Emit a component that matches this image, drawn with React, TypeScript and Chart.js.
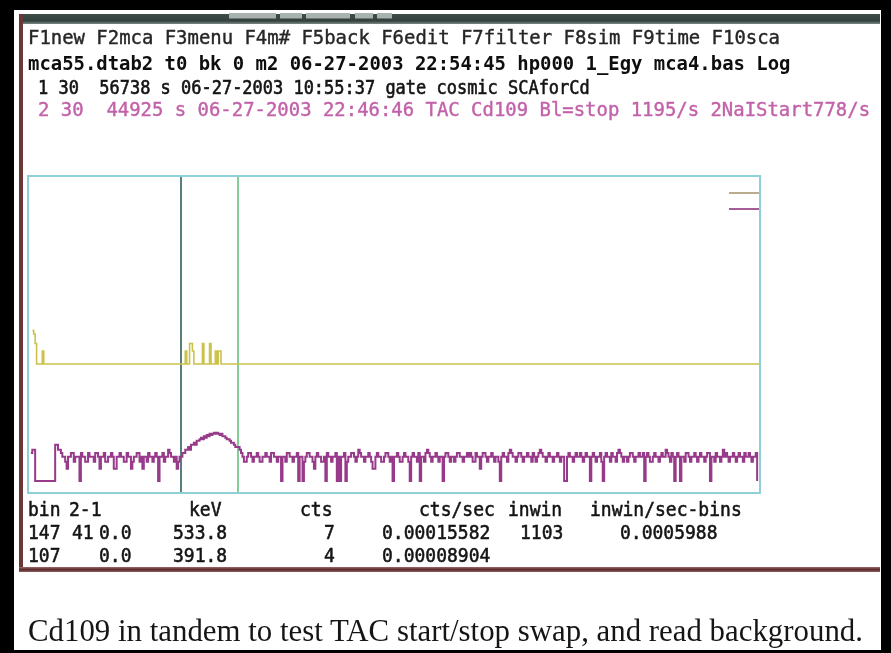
import React, { useEffect, useLayoutEffect, useRef } from "react";
import { Chart, registerables } from "chart.js";

Chart.register(...registerables);

// ---- spectrum data -------------------------------------------------------

const NUM_BINS = 512;

// Spectrum 2 (TAC Cd109, 44925 s): counts per bin, in three runs of bins
const purpleLowStart = 2;
const purpleLow = [
  5, 6, 6,
  1, 1, 1, 1, 1, 1, 1, 1, 1, 1, 1, 1, 1, 1,
  8, 8, 6, 6, 5, 4, 4, 3, 2, 4,
  4, 5, 5, 3, 4, 4, 4, 1, 5, 4,
  4, 3, 3, 5, 4, 4, 4, 3, 5, 5,
  4, 2, 4, 4, 5, 3, 3, 4, 4, 5,
  4, 2, 2, 4, 4, 5, 4, 4, 3, 3,
  5, 4, 4, 2, 3, 4, 4, 5, 5, 3,
  4, 2, 4, 4, 3, 5, 4, 4, 3, 4,
  5, 4, 1, 4, 4, 5, 3, 4, 4, 6,
  5, 4, 4, 3, 4, 2, 3, 4,
];

const purplePeakStart = 107;
const purplePeak = [
  4, 5, 5, 6, 6, 7, 6, 8, 8, 9,
  8, 10, 10, 11, 12, 11, 13, 12, 14, 13,
  15, 14, 15, 16, 15, 16, 15, 14, 15, 13,
  13, 12, 11, 11, 10, 9, 9, 8, 7, 7,
  7,
];

const purpleHighStart = 148;
const purpleHigh = [
  6, 5, 4, 3, 3, 4, 5, 5, 4, 3,
  4, 4, 5, 4, 3, 3, 4, 4, 5, 4,
  4, 3, 5, 5, 4, 4, 3, 4, 4, 1,
  4, 4, 3, 5, 5, 4, 4, 3, 4, 4,
  5, 1, 4, 4, 1, 3, 4, 5, 5, 4,
  4, 3, 2, 4, 5, 4, 4, 3, 3, 4,
  1, 5, 4, 4, 3, 4, 4, 5, 1, 4,
  1, 4, 4, 5, 1, 3, 4, 4, 5, 5,
  4, 3, 4, 6, 5, 4, 4, 3, 4, 4,
  5, 4, 3, 2, 2, 4, 5, 4, 4, 3,
  3, 4, 5, 5, 4, 3, 4, 1, 4, 4,
  5, 4, 3, 3, 4, 5, 4, 4, 3, 1,
  4, 5, 4, 4, 3, 5, 1, 4, 4, 3,
  5, 6, 5, 4, 3, 4, 4, 5, 4, 3,
  4, 4, 1, 4, 5, 5, 4, 3, 4, 4,
  3, 4, 5, 5, 4, 4, 3, 4, 4, 5,
  4, 5, 4, 3, 3, 5, 4, 4, 2, 4,
  5, 5, 4, 3, 4, 4, 5, 4, 3, 4,
  4, 3, 1, 4, 5, 4, 4, 3, 5, 6,
  5, 4, 4, 3, 4, 5, 5, 4, 3, 4,
  4, 5, 4, 4, 3, 5, 4, 3, 4, 5,
  6, 5, 4, 4, 3, 4, 5, 4, 4, 3,
  4, 4, 5, 4, 3, 4, 4, 1, 1, 4,
  5, 4, 4, 3, 4, 5, 4, 4, 5, 4,
  3, 4, 5, 4, 4, 1, 4, 5, 4, 3,
  4, 4, 5, 3, 1, 4, 5, 4, 4, 3,
  5, 4, 4, 3, 5, 6, 5, 4, 3, 4,
  4, 3, 4, 5, 5, 4, 3, 4, 4, 5,
  4, 4, 5, 1, 4, 5, 4, 3, 3, 4,
  5, 4, 4, 3, 4, 5, 4, 4, 6, 5,
  4, 3, 5, 4, 1, 4, 5, 4, 1, 4,
  4, 3, 5, 5, 4, 3, 4, 4, 5, 4,
  3, 4, 5, 4, 4, 3, 4, 5, 5, 1,
  4, 4, 3, 5, 4, 4, 3, 4, 6, 4,
  5, 4, 3, 4, 4, 5, 4, 3, 4, 5,
  4, 4, 3, 5, 4, 4, 5, 4, 3, 4,
  4, 5, 1,
];

// Spectrum 1 (gate cosmic, 56738 s): [first bin, counts] at each change of level
const yellowSteps: [number, number][] = [
  [3, 6], [4, 5], [5, 3], [6, 1], [10, 2], [11, 1],
  [110, 2], [111, 1], [113, 3], [114, 3], [115, 2], [116, 1],
  [122, 3], [123, 1], [127, 3], [128, 1], [131, 2], [132, 1],
  [133, 2], [135, 1], [512, 1],
];

// Window cursors (bins)
const cursorBins = [107, 147];

// ---- screen text ---------------------------------------------------------

const menuLine = "F1new F2mca F3menu F4m# F5back F6edit F7filter F8sim F9time F10sca";
const fileLine = "mca55.dtab2 t0 bk 0 m2 06-27-2003 22:54:45 hp000 1_Egy mca4.bas Log";
const spectrum1Line = "1 30  56738 s 06-27-2003 10:55:37 gate cosmic SCAforCd";
const spectrum2Line = "2 30  44925 s 06-27-2003 22:46:46 TAC Cd109 Bl=stop 1195/s 2NaIStart778/s";

const readoutHeader = ["bin", "2-1", "keV", "cts", "cts/sec", "inwin", "inwin/sec-bins"];
const readoutRow1 = ["147", "41", "0.0", "533.8", "7", "0.00015582", "1103", "0.0005988"];
const readoutRow2 = ["107", "", "0.0", "391.8", "4", "0.00008904", "", ""];

const caption = "Cd109 in tandem to test TAC start/stop swap, and read background.";

// ---- layout ---------------------------------------------------------------

const W = 891;
const H = 653;
const PLOT = { left: 28, top: 176, right: 760, bottom: 493 };
const MONO = "'DejaVu Sans Mono', 'Liberation Mono', monospace";
const headerCols = [28, 69, 189, 300, 419, 508, 590];
const rowCols = [28, 72, 99, 173, 324, 382, 520, 620];

function toPoints(start: number, counts: number[]) {
  return counts.map((c, i) => ({ x: start + i, y: c }));
}

const purplePoints = [
  ...toPoints(purpleLowStart, purpleLow),
  ...toPoints(purplePeakStart, purplePeak),
  ...toPoints(purpleHighStart, purpleHigh),
];
const yellowPoints = yellowSteps.map(([b, c]) => ({ x: b, y: c }));

const mcaFrame = {
  id: "mcaFrame",
  beforeDatasetsDraw(chart: any) {
    const { ctx, chartArea: a, scales } = chart;
    const colors = ["#587f80", "#84cc98"];
    ctx.save();
    ctx.lineWidth = 2;
    cursorBins.forEach((b, i) => {
      const px = Math.round(scales.x.getPixelForValue(b));
      ctx.strokeStyle = colors[i];
      ctx.beginPath();
      ctx.moveTo(px, a.top);
      ctx.lineTo(px, a.bottom);
      ctx.stroke();
    });
    ctx.restore();
  },
  afterDatasetsDraw(chart: any) {
    const { ctx, chartArea: a } = chart;
    ctx.save();
    // spectrum tags, upper right
    ctx.lineWidth = 2;
    ctx.strokeStyle = "#b9ab8e";
    ctx.beginPath();
    ctx.moveTo(a.right - 31, a.top + 17);
    ctx.lineTo(a.right, a.top + 17);
    ctx.stroke();
    ctx.strokeStyle = "#a55c97";
    ctx.beginPath();
    ctx.moveTo(a.right - 31, a.top + 33);
    ctx.lineTo(a.right, a.top + 33);
    ctx.stroke();
    // window border
    ctx.strokeStyle = "#8fcfd8";
    ctx.lineWidth = 2;
    ctx.strokeRect(a.left, a.top, a.right - a.left, a.bottom - a.top);
    ctx.restore();
  },
};

function FitText(props: {
  text: string;
  left: number;
  cy: number;
  width: number;
  size: number;
  family: string;
  color: string;
  weight?: number;
  stroke?: number;
}) {
  const ref = useRef<HTMLSpanElement>(null);
  useLayoutEffect(() => {
    const fit = () => {
      const el = ref.current;
      if (!el) return;
      const w = el.offsetWidth;
      if (w > 0) el.style.transform = `scaleX(${props.width / w})`;
    };
    fit();
    const fonts = (document as any).fonts;
    if (fonts && fonts.ready) fonts.ready.then(fit);
  }, [props.text, props.width]);
  const lh = Math.round(props.size * 1.3);
  return (
    <span
      ref={ref}
      style={{
        position: "absolute",
        left: props.left,
        top: props.cy - lh / 2,
        lineHeight: lh + "px",
        height: lh,
        whiteSpace: "pre",
        fontFamily: props.family,
        fontSize: props.size,
        fontWeight: props.weight ?? 400,
        color: props.color,
        WebkitTextStroke: props.stroke ? `${props.stroke}px ${props.color}` : undefined,
        transformOrigin: "0 50%",
      }}
    >
      {props.text}
    </span>
  );
}

function Cell(props: { text: string; left: number; cy: number }) {
  const lh = 24;
  return (
    <span
      style={{
        position: "absolute",
        left: props.left,
        top: props.cy - lh / 2,
        lineHeight: lh + "px",
        whiteSpace: "pre",
        fontFamily: MONO,
        fontSize: 18,
        color: "#141414",
        WebkitTextStroke: "0.5px #141414",
        transform: "scale(1.0, 1.08)",
        transformOrigin: "0 50%",
      }}
    >
      {props.text}
    </span>
  );
}

export default function App() {
  const canvasRef = useRef<HTMLCanvasElement>(null);

  useEffect(() => {
    const canvas = canvasRef.current;
    if (!canvas) return;
    const chart = new Chart(canvas, {
      type: "line",
      data: {
        datasets: [
          {
            label: "gate cosmic",
            data: yellowPoints,
            yAxisID: "y1",
            borderColor: "#cbc24a",
            borderWidth: 1.6,
            stepped: true,
            pointRadius: 0,
            fill: false,
            borderJoinStyle: "miter",
          },
          {
            label: "TAC Cd109",
            data: purplePoints,
            yAxisID: "y",
            borderColor: "#973a8a",
            borderWidth: 2,
            stepped: true,
            pointRadius: 0,
            fill: false,
            borderJoinStyle: "miter",
          },
        ],
      },
      options: {
        responsive: false,
        maintainAspectRatio: false,
        animation: false,
        devicePixelRatio: 1,
        events: [],
        layout: {
          padding: {
            left: PLOT.left,
            top: PLOT.top,
            right: W - PLOT.right,
            bottom: H - PLOT.bottom,
          },
        },
        scales: {
          x: { type: "linear", min: 0, max: NUM_BINS, display: false },
          y: { type: "logarithmic", min: 0.5, max: 4e7, display: false },
          y1: { type: "logarithmic", min: 0.001, max: 23600, display: false },
        },
        plugins: {
          legend: { display: false },
          tooltip: { enabled: false },
        },
      },
      plugins: [mcaFrame],
    } as any);
    return () => chart.destroy();
  }, []);

  return (
    <div
      style={{
        position: "fixed",
        left: 0,
        top: 0,
        width: W,
        height: H,
        background: "#000",
        overflow: "hidden",
      }}
    >
      {/* page and screen frame */}
      <div style={{ position: "absolute", left: 14, top: 10, width: 867, height: 640, background: "#fff" }} />
      <div
        style={{
          position: "absolute",
          left: 19,
          top: 14,
          width: 861,
          height: 10,
          background: "linear-gradient(#3e4d49, #34423f 70%, #7e8a86)",
        }}
      />
      {[
        [229, 47],
        [280, 22],
        [306, 44],
        [355, 18],
        [377, 15],
      ].map(([l, w], i) => (
        <div
          key={i}
          style={{
            position: "absolute",
            left: l,
            top: 13,
            width: w,
            height: 5,
            background: "#a9b2ae",
            borderBottom: "1px solid #6d7773",
          }}
        />
      ))}
      <div style={{ position: "absolute", left: 19, top: 14, width: 4, height: 558, background: "#6b3636" }} />
      <div
        style={{
          position: "absolute",
          left: 19,
          top: 567,
          width: 861,
          height: 5,
          background: "linear-gradient(#9b6a6a, #5e2c2c 50%, #8c5c5c)",
        }}
      />

      <canvas ref={canvasRef} width={W} height={H} style={{ position: "absolute", left: 0, top: 0, width: W, height: H }} />

      {/* status lines */}
      <FitText text={menuLine} left={28} cy={37} width={752} size={19} family={MONO} color="#262626" stroke={0.4} />
      <FitText text={fileLine} left={28} cy={63} width={762} size={19} family={MONO} color="#0e0e0e" weight={700} />
      <FitText text={spectrum1Line} left={38} cy={87} width={552} size={19} family={MONO} color="#141414" stroke={0.6} />
      <FitText text={spectrum2Line} left={38} cy={109} width={832} size={19} family={MONO} color="#c262a9" stroke={0.4} />

      {/* cursor readout */}
      {readoutHeader.map((t, i) => (
        <Cell key={"h" + i} text={t} left={headerCols[i]} cy={510} />
      ))}
      {readoutRow1.map((t, i) => (t ? <Cell key={"a" + i} text={t} left={rowCols[i]} cy={533} /> : null))}
      {readoutRow2.map((t, i) => (t ? <Cell key={"b" + i} text={t} left={rowCols[i]} cy={556} /> : null))}

      <FitText text={caption} left={28} cy={631} width={835} size={31} family="'Liberation Serif', 'DejaVu Serif', serif" color="#151515" />
    </div>
  );
}
